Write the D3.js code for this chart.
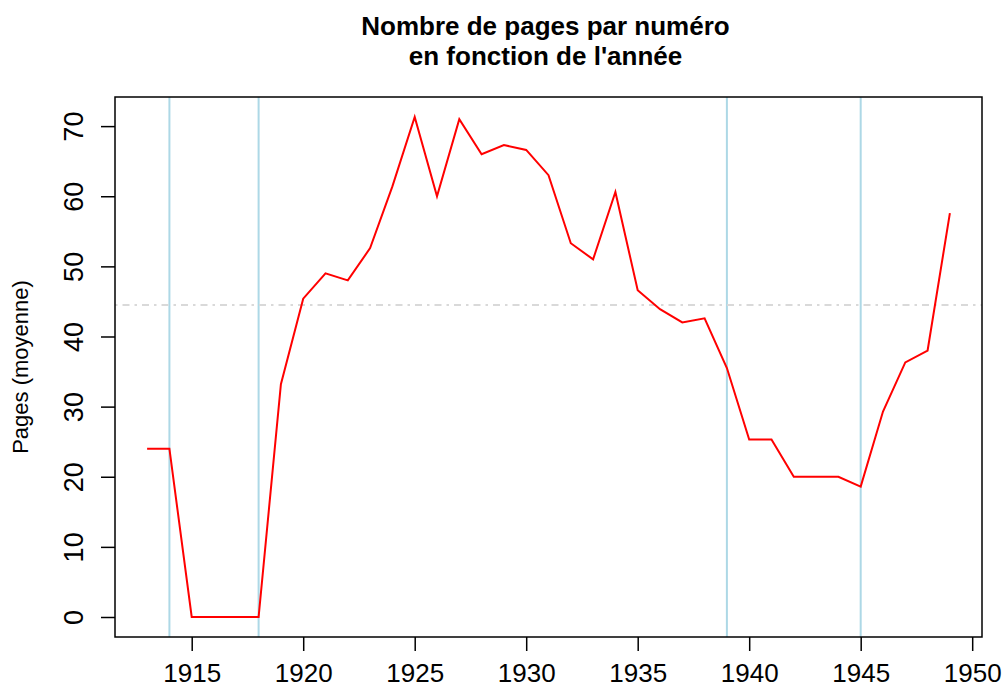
<!DOCTYPE html>
<html>
<head>
<meta charset="utf-8">
<script src="https://cdn.jsdelivr.net/npm/d3@7"></script>
<style>
  body { margin: 0; background: #fff; }
  svg { display: block; font-family: "Liberation Sans", Arial, Helvetica, sans-serif; }
</style>
</head>
<body>
<script>
const years = [1913, 1914, 1915, 1916, 1917, 1918, 1919, 1920, 1921, 1922, 1923, 1924,
               1925, 1926, 1927, 1928, 1929, 1930, 1931, 1932, 1933, 1934, 1935, 1936,
               1937, 1938, 1939, 1940, 1941, 1942, 1943, 1944, 1945, 1946, 1947, 1948, 1949];
const pages = [24, 24, 0, 0, 0, 0, 33.2, 45.4, 49, 48, 52.6, 61.4,
               71.3, 60, 71, 66, 67.3, 66.6, 63, 53.3, 51, 60.6, 46.6, 43.9,
               42, 42.6, 35.5, 25.3, 25.3, 20, 20, 20, 18.6, 29.3, 36.3, 38, 57.6];
const warYears = [1914, 1918, 1939, 1945];
const xTicks = [1915, 1920, 1925, 1930, 1935, 1940, 1945, 1950];
const yTicks = [0, 10, 20, 30, 40, 50, 60, 70];

const W = 1004, H = 689;
const plotL = 115, plotR = 982, plotT = 97, plotB = 637;

// moyenne des numéros publiés (on ignore les années sans parution)
const meanPages = d3.mean(pages.filter(d => d > 0));

const svg = d3.select('body').append('svg')
    .attr('width', W)
    .attr('height', H);

// R-style 4% padding on both axes
const xPad = (d3.max(years) - d3.min(years)) * 0.04;
const yPad = (d3.max(pages) - d3.min(pages)) * 0.04;
const xScale = d3.scaleLinear()
    .domain([d3.min(years) - xPad, d3.max(years) + xPad])
    .range([plotL, plotR]);
const yScale = d3.scaleLinear()
    .domain([d3.min(pages) - yPad, d3.max(pages) + yPad])
    .range([plotB, plotT]);

// title
const cx = (plotL + plotR) / 2 - 3;
const title = svg.append('text')
    .attr('text-anchor', 'middle')
    .attr('font-weight', 'bold')
    .attr('font-size', 26);
title.append('tspan').attr('x', cx).attr('y', 35).text('Nombre de pages par numéro');
title.append('tspan').attr('x', cx).attr('y', 65).text("en fonction de l'année");

const plot = svg.append('g');

// war years
plot.selectAll('line.war')
    .data(warYears)
    .enter()
    .append('line')
    .attr('class', 'war')
    .attr('x1', d => xScale(d))
    .attr('x2', d => xScale(d))
    .attr('y1', plotT)
    .attr('y2', plotB)
    .attr('stroke', '#add8e6')
    .attr('stroke-width', 2);

// mean line
plot.append('line')
    .attr('x1', plotL)
    .attr('x2', plotR)
    .attr('y1', yScale(meanPages))
    .attr('y2', yScale(meanPages))
    .attr('stroke', '#d9d9d9')
    .attr('stroke-width', 2)
    .attr('stroke-dasharray', '2.5,5,7,5');

// series
const line = d3.line()
    .x((d, i) => xScale(years[i]))
    .y(d => yScale(d));
plot.append('path')
    .datum(pages)
    .attr('d', line)
    .attr('fill', 'none')
    .attr('stroke', '#ff0000')
    .attr('stroke-width', 2);

// box
svg.append('rect')
    .attr('x', plotL)
    .attr('y', plotT)
    .attr('width', plotR - plotL)
    .attr('height', plotB - plotT)
    .attr('fill', 'none')
    .attr('stroke', '#000')
    .attr('stroke-width', 1.5);

// x axis
const xAxis = svg.append('g')
    .attr('transform', `translate(0, ${plotB})`)
    .call(d3.axisBottom(xScale).tickValues(xTicks).tickFormat(d3.format('d')).tickSize(14).tickPadding(13));
xAxis.select('.domain').remove();
xAxis.selectAll('line').attr('stroke', '#000').attr('stroke-width', 1.5);
xAxis.selectAll('text').attr('font-size', 26).attr('fill', '#000')
    .attr('font-family', '"Liberation Sans", Arial, sans-serif');

// y axis
const yAxis = svg.append('g')
    .attr('transform', `translate(${plotL}, 0)`)
    .call(d3.axisLeft(yScale).tickValues(yTicks).tickSize(14));
yAxis.select('.domain').remove();
yAxis.selectAll('line').attr('stroke', '#000').attr('stroke-width', 1.5);
yAxis.selectAll('text')
    .attr('font-size', 27)
    .attr('fill', '#000')
    .attr('font-family', '"Liberation Sans", Arial, sans-serif')
    .attr('text-anchor', 'middle')
    .attr('dy', 0)
    .attr('x', 0)
    .attr('transform', 'translate(-32, 0) rotate(-90)');

// y label
svg.append('text')
    .attr('transform', `translate(28, ${(plotT + plotB) / 2}) rotate(-90)`)
    .attr('text-anchor', 'middle')
    .attr('font-size', 22)
    .text('Pages (moyenne)');
</script>
</body>
</html>
